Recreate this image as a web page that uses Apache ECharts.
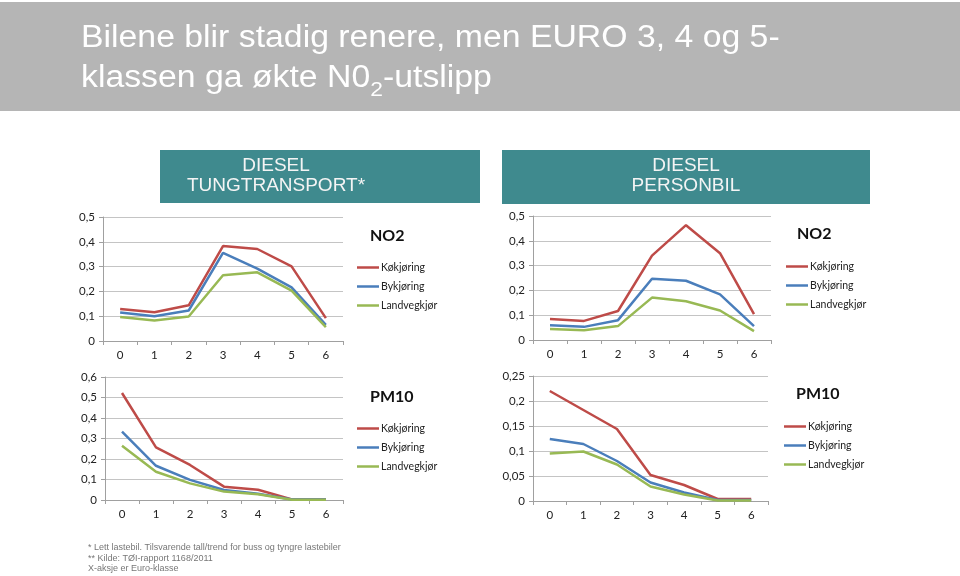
<!DOCTYPE html>
<html>
<head>
<meta charset="utf-8">
<script src="https://cdn.jsdelivr.net/npm/echarts@6/dist/echarts.min.js"></script>
<style>html,body{margin:0;padding:0;background:#fff;}#c{width:960px;height:576px;}</style>
</head>
<body>
<div id="c"></div>
<script>
// Euro classes (x axis)
const euroClasses = ['0', '1', '2', '3', '4', '5', '6'];
const seriesNames = ['Køkjøring', 'Bykjøring', 'Landvegkjør'];

// DIESEL TUNGTRANSPORT – NO2
const tungNO2Kok  = [0.129, 0.116, 0.144, 0.383, 0.371, 0.301, 0.092];
const tungNO2By   = [0.115, 0.100, 0.123, 0.355, 0.292, 0.216, 0.065];
const tungNO2Land = [0.097, 0.083, 0.099, 0.265, 0.277, 0.203, 0.056];

// DIESEL PERSONBIL – NO2
const persNO2Kok  = [0.085, 0.077, 0.117, 0.340, 0.463, 0.350, 0.104];
const persNO2By   = [0.059, 0.053, 0.080, 0.247, 0.239, 0.184, 0.056];
const persNO2Land = [0.044, 0.039, 0.056, 0.171, 0.156, 0.119, 0.036];

// DIESEL TUNGTRANSPORT – PM10
const tungPMKok  = [0.522, 0.257, 0.171, 0.065, 0.050, 0.003, 0.003];
const tungPMBy   = [0.333, 0.167, 0.098, 0.049, 0.031, 0.002, 0.002];
const tungPMLand = [0.265, 0.138, 0.081, 0.041, 0.028, 0.001, 0.001];

// DIESEL PERSONBIL – PM10
const persPMKok  = [0.220, 0.182, 0.144, 0.052, 0.032, 0.004, 0.004];
const persPMBy   = [0.124, 0.114, 0.080, 0.037, 0.017, 0.002, 0.002];
const persPMLand = [0.095, 0.099, 0.073, 0.029, 0.013, 0.001, 0.001];

const panels = [
  { data: [tungNO2Kok, tungNO2By, tungNO2Land], max: 0.5, interval: 0.1, label: 'NO2' },
  { data: [persNO2Kok, persNO2By, persNO2Land], max: 0.5, interval: 0.1, label: 'NO2' },
  { data: [tungPMKok, tungPMBy, tungPMLand], max: 0.6, interval: 0.1, label: 'PM10' },
  { data: [persPMKok, persPMBy, persPMLand], max: 0.25, interval: 0.05, label: 'PM10' }
];

const colors = ['#be4b48', '#4a7ebb', '#98b954'];
const grids = [
  { left: 103, top: 217, width: 240, height: 124 },
  { left: 533, top: 216, width: 238, height: 124 },
  { left: 105, top: 377, width: 238, height: 123 },
  { left: 533, top: 376, width: 235, height: 125 }
];
const labelPos = [
  { left: 370, top: 228 }, { left: 797, top: 226 },
  { left: 370, top: 389 }, { left: 796, top: 386 }
];
const legendPos = [
  { left: 357, top: 262 }, { left: 786, top: 261 },
  { left: 357, top: 423 }, { left: 784, top: 421 }
];

const fmt = v => String(parseFloat(Number(v).toFixed(3))).replace('.', ',');
const tickFont = { fontFamily: 'Lato', fontSize: 11.5, color: '#222' };

const option = {
  animation: false,
  color: colors,
  title: [
    ...panels.map((p, i) => ({
      text: p.label, left: labelPos[i].left, top: labelPos[i].top, padding: 0,
      textStyle: { fontFamily: 'Lato', fontWeight: 'bold', fontSize: 16, color: '#111' }
    })),
    {
      text: '* Lett lastebil. Tilsvarende tall/trend for buss og tyngre lastebiler\n** Kilde: TØI-rapport 1168/2011\nX-aksje er Euro-klasse',
      left: 88, top: 542, padding: 0,
      textStyle: { fontFamily: 'Liberation Sans', fontWeight: 'normal', fontSize: 9, lineHeight: 10.7, color: '#777' }
    }
  ],
  graphic: [
    { type: 'rect', shape: { x: 0, y: 2, width: 960, height: 109 }, style: { fill: '#b5b5b5' }, z: -10 },
    {
      type: 'text', x: 81, y: 18, scaleX: 1.09,
      style: {
        text: 'Bilene blir stadig renere, men EURO 3, 4 og 5-\nklassen ga økte N0{sub|2}-utslipp',
        fill: '#ffffff', font: '31px "Liberation Sans"', lineHeight: 40, align: 'left', verticalAlign: 'top',
        rich: { sub: { fill: '#ffffff', font: '21px "Liberation Sans"', lineHeight: 40, padding: [24, 0, 0, 0] } }
      }
    },
    { type: 'rect', shape: { x: 160, y: 150, width: 320, height: 53 }, style: { fill: '#3f8a8e' }, z: -10 },
    { type: 'rect', shape: { x: 502, y: 150, width: 368, height: 54 }, style: { fill: '#3f8a8e' }, z: -10 },
    { type: 'text', x: 276, y: 176, style: { text: 'DIESEL\nTUNGTRANSPORT*', fill: '#f4f4f4', font: '19px "Liberation Sans"', lineHeight: 20.5, align: 'center', verticalAlign: 'middle' } },
    { type: 'text', x: 686, y: 176, style: { text: 'DIESEL\nPERSONBIL', fill: '#f4f4f4', font: '19px "Liberation Sans"', lineHeight: 20.5, align: 'center', verticalAlign: 'middle' } }
  ],
  legend: panels.map((p, i) => ({
    left: legendPos[i].left, top: legendPos[i].top, orient: 'vertical', padding: 0,
    icon: 'rect', itemWidth: 22, itemHeight: 2.5, itemGap: 8,
    textStyle: { fontFamily: 'Lato', fontSize: 10.5, color: '#222', padding: [0, 0, 0, -3] },
    data: seriesNames
  })),
  grid: grids,
  xAxis: panels.map((p, i) => ({
    type: 'category', gridIndex: i, data: euroClasses, boundaryGap: true,
    axisLine: { lineStyle: { color: '#a0a0a0' } },
    axisTick: { show: true, length: 4, lineStyle: { color: '#a0a0a0' } },
    axisLabel: Object.assign({ margin: 8 }, tickFont)
  })),
  yAxis: panels.map((p, i) => ({
    type: 'value', gridIndex: i, min: 0, max: p.max, interval: p.interval,
    axisLine: { show: true, lineStyle: { color: '#a0a0a0' } },
    axisTick: { show: true, length: 4, lineStyle: { color: '#a0a0a0' } },
    splitLine: { lineStyle: { color: '#c4c4c4' } },
    axisLabel: Object.assign({ margin: 8, formatter: fmt }, tickFont)
  })),
  series: panels.flatMap((p, i) => p.data.map((d, j) => ({
    type: 'line', name: seriesNames[j], xAxisIndex: i, yAxisIndex: i, data: d,
    symbol: 'none', lineStyle: { width: 2.5, color: colors[j] }, itemStyle: { color: colors[j] }
  })))
};

const chart = echarts.init(document.getElementById('c'), null, { renderer: 'canvas' });
chart.setOption(option);
</script>
</body>
</html>
